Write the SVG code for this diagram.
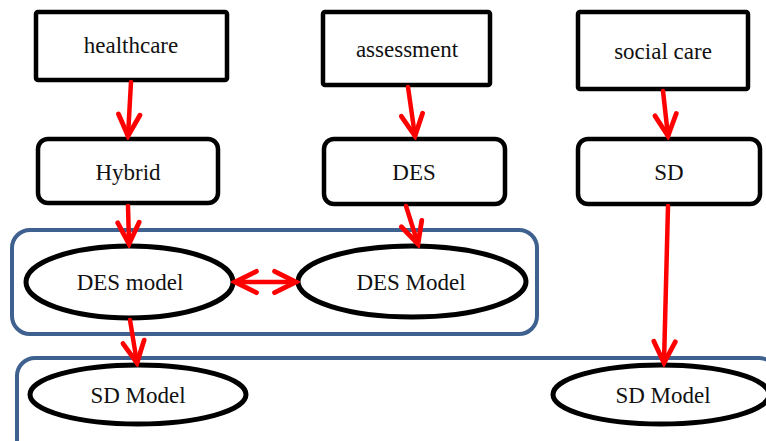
<svg xmlns="http://www.w3.org/2000/svg" width="766" height="441" viewBox="0 0 766 441">
<defs>
<style>
.box{fill:#fff;stroke:#000;stroke-width:4.5}
.ell{fill:#fff;stroke:#000;stroke-width:5}
.grp{fill:none;stroke:#3e6190;stroke-width:4}
.lbl{font-size:23px;fill:#111;text-anchor:middle}
.conn{stroke:#ff0000;stroke-width:4.5;fill:none;stroke-linecap:round}
</style>
<marker id="ah" markerUnits="userSpaceOnUse" markerWidth="30" markerHeight="30" viewBox="-24 -14 28 28" refX="0" refY="0" orient="auto-start-reverse">
<path d="M-20,-10 L0,0 L-20,10" fill="none" stroke="#ff0000" stroke-width="4.5" stroke-linecap="round" stroke-linejoin="miter"/>
</marker>
</defs>
<rect width="766" height="441" fill="#fff"/>
<g id="group-des">
<rect class="grp" x="12" y="230" width="525" height="104" rx="18"/>
</g>
<g id="group-sd">
<rect class="grp" x="17" y="358" width="760" height="100" rx="18"/>
</g>
<g font-family="'Liberation Serif', 'DejaVu Serif', serif">
<g id="healthcare">
<rect class="box" x="36" y="12" width="191" height="68" rx="2"/>
<text class="lbl" x="131" y="53">healthcare</text>
</g>
<g id="assessment">
<rect class="box" x="323" y="12" width="167" height="73" rx="2"/>
<text class="lbl" x="407" y="57">assessment</text>
</g>
<g id="social-care">
<rect class="box" x="578" y="12" width="170" height="77" rx="2"/>
<text class="lbl" x="663" y="59">social care</text>
</g>
<g id="hybrid">
<rect class="box" x="38" y="139" width="180" height="64" rx="10"/>
<text class="lbl" x="128" y="180">Hybrid</text>
</g>
<g id="des">
<rect class="box" x="324" y="139" width="181" height="65" rx="10"/>
<text class="lbl" x="414" y="180">DES</text>
</g>
<g id="sd">
<rect class="box" x="578" y="139" width="182" height="65" rx="10"/>
<text class="lbl" x="669" y="180">SD</text>
</g>
<g id="des-model-1">
<ellipse class="ell" cx="129.5" cy="282" rx="103.5" ry="36"/>
<text class="lbl" x="130" y="290">DES model</text>
</g>
<g id="des-model-2">
<ellipse class="ell" cx="412" cy="281.5" rx="114" ry="35.5"/>
<text class="lbl" x="411" y="290">DES Model</text>
</g>
<g id="sd-model-1">
<ellipse class="ell" cx="138" cy="394.5" rx="108" ry="29.5"/>
<text class="lbl" x="138" y="403">SD Model</text>
</g>
<g id="sd-model-2">
<ellipse class="ell" cx="661" cy="394.5" rx="108" ry="29.5"/>
<text class="lbl" x="663" y="403">SD Model</text>
</g>
</g>
<g id="connectors">
<line class="conn" x1="131" y1="82" x2="128" y2="136" marker-end="url(#ah)"/>
<line class="conn" x1="408" y1="87" x2="415" y2="136" marker-end="url(#ah)"/>
<line class="conn" x1="663" y1="91" x2="668" y2="136" marker-end="url(#ah)"/>
<line class="conn" x1="128" y1="206" x2="129" y2="244" marker-end="url(#ah)"/>
<line class="conn" x1="406" y1="206" x2="418" y2="244" marker-end="url(#ah)"/>
<line class="conn" x1="668" y1="206" x2="664" y2="363" marker-end="url(#ah)"/>
<line class="conn" x1="130" y1="320" x2="137" y2="363" marker-end="url(#ah)"/>
<line class="conn" x1="235" y1="282" x2="296" y2="282" marker-start="url(#ah)" marker-end="url(#ah)"/>
</g>
</svg>
